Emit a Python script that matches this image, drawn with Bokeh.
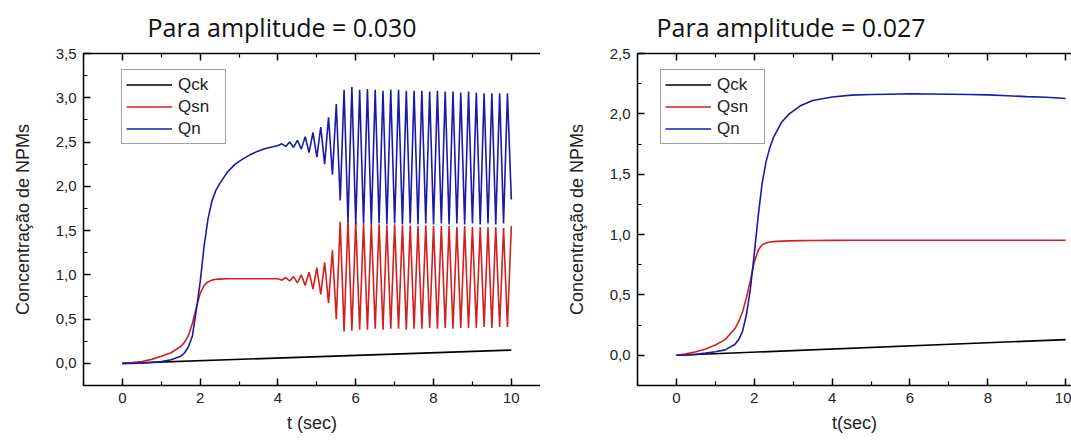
from bokeh.plotting import figure
from bokeh.models import (LinearAxis, Legend, LegendItem, Range1d, FixedTicker,
                          CustomJSTickFormatter)
from bokeh.layouts import row
from bokeh.embed import file_html
from bokeh.resources import INLINE

# ---------------- data: amplitude = 0.030 ----------------
t_a = [0, 0.25, 0.5, 0.75, 1.0, 1.25, 1.5, 1.6, 1.7, 1.8, 1.9, 2.0, 2.1, 2.2, 2.3, 2.4,
       2.5, 2.7, 2.9, 3.1, 3.3, 3.5, 3.7, 3.9,
       4.0, 4.1, 4.2, 4.3, 4.4, 4.5, 4.6, 4.7, 4.8, 4.9, 5.0, 5.1, 5.2, 5.3, 5.4, 5.5,
       5.6, 5.7, 5.8, 5.9, 6.0, 6.1, 6.2, 6.3, 6.4, 6.5, 6.6, 6.7, 6.8, 6.9, 7.0, 7.1,
       7.2, 7.3, 7.4, 7.5, 7.6, 7.7, 7.8, 7.9, 8.0, 8.1, 8.2, 8.3, 8.4, 8.5, 8.6, 8.7,
       8.8, 8.9, 9.0, 9.1, 9.2, 9.3, 9.4, 9.5, 9.6, 9.7, 9.8, 9.9, 10.0]
qsn_a = [0, 0.008, 0.022, 0.045, 0.08, 0.12, 0.19, 0.24, 0.32, 0.45, 0.63, 0.79, 0.88, 0.92,
         0.94, 0.95, 0.952, 0.955, 0.955, 0.955, 0.955, 0.955, 0.955, 0.955,
         0.955, 0.94, 0.97, 0.93, 0.98, 0.91, 1.0, 0.88, 1.03, 0.84, 1.08, 0.78, 1.14, 0.68,
         1.28, 0.5, 1.6, 0.36, 1.62, 0.37, 1.6, 0.38, 1.58, 0.38, 1.57, 0.39, 1.57, 0.38,
         1.56, 0.39, 1.57, 0.39, 1.56, 0.38, 1.56, 0.39, 1.55, 0.39, 1.56, 0.4, 1.55, 0.39,
         1.55, 0.4, 1.55, 0.39, 1.54, 0.4, 1.55, 0.4, 1.54, 0.4, 1.54, 0.41, 1.54, 0.4,
         1.54, 0.41, 1.53, 0.41, 1.55]
qn_a = [0, 0.0, 0.005, 0.01, 0.02, 0.04, 0.08, 0.12, 0.19, 0.31, 0.6, 0.92, 1.32, 1.63,
        1.83, 1.95, 2.03, 2.16, 2.25, 2.31, 2.36, 2.4, 2.43, 2.45,
        2.46, 2.48, 2.45, 2.5, 2.44, 2.52, 2.42, 2.56, 2.38, 2.61, 2.33, 2.67, 2.25, 2.78,
        2.13, 2.93, 1.84, 3.09, 1.6, 3.12, 1.57, 3.09, 1.58, 3.1, 1.57, 3.09, 1.58, 3.08,
        1.57, 3.09, 1.58, 3.09, 1.57, 3.08, 1.58, 3.08, 1.57, 3.08, 1.58, 3.07, 1.57, 3.08,
        1.58, 3.07, 1.57, 3.07, 1.58, 3.06, 1.57, 3.07, 1.58, 3.06, 1.57, 3.05, 1.58, 3.05,
        1.57, 3.05, 1.58, 3.05, 1.85]
tck_a = [0, 10]
qck_a = [0, 0.15]

# ---------------- data: amplitude = 0.027 ----------------
t_b = [0, 0.25, 0.5, 0.75, 1.0, 1.25, 1.5, 1.6, 1.7, 1.8, 1.9, 2.0, 2.1, 2.2, 2.3, 2.4,
       2.5, 2.7, 2.9, 3.2, 3.5, 4.0, 4.5, 5.0, 5.5, 6.0, 6.5, 7.0, 7.5, 8.0, 8.5, 9.0,
       9.5, 10.0]
qsn_b = [0, 0.012, 0.03, 0.053, 0.085, 0.13, 0.22, 0.28, 0.36, 0.48, 0.62, 0.77, 0.87,
         0.915, 0.93, 0.938, 0.942, 0.946, 0.948, 0.95, 0.951, 0.952, 0.953, 0.953, 0.953,
         0.953, 0.953, 0.953, 0.953, 0.953, 0.953, 0.953, 0.953, 0.953]
qn_b = [0, 0.003, 0.008, 0.018, 0.03, 0.045, 0.09, 0.13, 0.2, 0.34, 0.55, 0.84, 1.15, 1.42,
        1.6, 1.72, 1.81, 1.93, 2.0, 2.07, 2.11, 2.14, 2.155, 2.16, 2.163, 2.166, 2.165,
        2.163, 2.16, 2.157, 2.15, 2.143, 2.137, 2.127]
tck_b = [0, 10]
qck_b = [0, 0.13]

x_major = [0, 2, 4, 6, 8, 10]
x_minor = [-1, 1, 3, 5, 7, 9]
series_names = ["Qck", "Qsn", "Qn"]
series_colors = ["#000000", "#d02020", "#1a1aa8"]

AX_FONT = "Liberation Sans"


def style_axis(ax, labels=True):
    ax.axis_line_width = 1.5
    ax.axis_line_color = "black"
    ax.major_tick_in = 7
    ax.major_tick_out = 0
    ax.minor_tick_in = 4
    ax.minor_tick_out = 0
    ax.major_tick_line_width = 1.5
    ax.minor_tick_line_width = 1.2
    ax.major_tick_line_color = "black"
    ax.minor_tick_line_color = "black"
    if labels:
        ax.major_label_text_font = AX_FONT
        ax.major_label_text_font_size = "15px"
        ax.major_label_text_color = "#222222"
        ax.major_label_standoff = 7
        ax.axis_label_text_font = AX_FONT
        ax.axis_label_text_font_size = "18px"
        ax.axis_label_text_font_style = "normal"
        ax.axis_label_text_color = "#222222"
    else:
        ax.major_label_text_color = None
        ax.major_label_standoff = 0


def make_panel(title, title_offset, width, left_border, x_end, y_end,
               t, qck_t, qck, qsn, qn, xlabel, legend_x):
    p = figure(width=width, height=443, x_range=Range1d(-1, x_end),
               y_range=Range1d(-0.25, y_end), output_backend="svg",
               toolbar_location=None, title=title,
               min_border_left=left_border, min_border_right=0,
               min_border_top=53, min_border_bottom=58,
               x_axis_location=None, y_axis_location=None)
    p.outline_line_color = None
    p.background_fill_color = "white"
    p.border_fill_color = "white"
    p.title.align = "left"
    p.title.offset = title_offset
    p.title.standoff = 16
    p.title.vertical_align = "top"
    p.title.text_font = "Open Sans"
    p.title.text_font_size = "25px"
    p.title.text_font_style = "normal"
    p.title.text_color = "#111111"

    y_major = [v / 2 for v in range(0, int(y_end * 2) + 1)]
    y_minor = [v / 2 + 0.25 for v in range(-1, int(y_end * 2))]
    fmt = CustomJSTickFormatter(code="return tick.toFixed(1).replace('.', ',');")

    xb = LinearAxis(ticker=FixedTicker(ticks=x_major, minor_ticks=x_minor), axis_label=xlabel)
    style_axis(xb)
    xb.axis_label_standoff = 7
    p.add_layout(xb, "below")
    xt = LinearAxis(ticker=FixedTicker(ticks=x_major, minor_ticks=x_minor))
    style_axis(xt, labels=False)
    p.add_layout(xt, "above")

    yl = LinearAxis(ticker=FixedTicker(ticks=y_major, minor_ticks=y_minor),
                    formatter=fmt, axis_label="Concentração de NPMs")
    style_axis(yl)
    yl.axis_label_standoff = 20
    p.add_layout(yl, "left")

    r1 = p.line(qck_t, qck, line_color=series_colors[0], line_width=1.6)
    r2 = p.line(t, qsn, line_color=series_colors[1], line_width=1.6)
    r3 = p.line(t, qn, line_color=series_colors[2], line_width=1.6)

    leg = Legend(items=[LegendItem(label=series_names[0], renderers=[r1]),
                        LegendItem(label=series_names[1], renderers=[r2]),
                        LegendItem(label=series_names[2], renderers=[r3])],
                 location=(legend_x, 241))
    leg.label_text_font = AX_FONT
    leg.label_text_font_size = "17px"
    leg.label_text_color = "#222222"
    leg.glyph_width = 46
    leg.glyph_height = 21
    leg.label_height = 21
    leg.label_width = 43
    leg.label_standoff = 6
    leg.spacing = 1
    leg.padding = 4
    leg.margin = 0
    leg.border_line_color = "#444444"
    leg.border_line_width = 1
    leg.background_fill_alpha = 1
    p.add_layout(leg, "center")
    p.grid.visible = False
    return p


p1 = make_panel("Para amplitude = 0.030", 64, 540, 83, 10.75, 3.5,
                t_a, tck_a, qck_a, qsn_a, qn_a, "t (sec)", 38)
p2 = make_panel("Para amplitude = 0.027", 19, 531, 97, 10.15, 2.5,
                t_b, tck_b, qck_b, qsn_b, qn_b, "t(sec)", 23)

layout = row(p1, p2)
open("out.html", "w").write(file_html(layout, INLINE))
